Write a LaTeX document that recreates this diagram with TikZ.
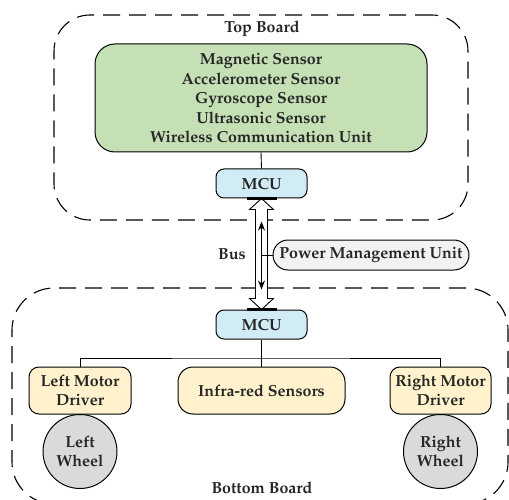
\documentclass[tikz,border=0pt]{standalone}
\usepackage[T1]{fontenc}
\usepackage{mathpazo}
\usetikzlibrary{calc,arrows.meta}
\definecolor{gfill}{HTML}{C5E0B4}
\definecolor{bfill}{HTML}{D2ECF5}
\definecolor{yfill}{HTML}{FFF2CC}
\definecolor{wfill}{HTML}{DADADC}
\definecolor{pfill}{HTML}{F2F2F2}
\definecolor{txt}{HTML}{262626}
\tikzset{
  every node/.style={font=\fontsize{16}{19.5}\selectfont\bfseries, text=txt},
  board/.style={draw, dashed, dash pattern=on 17pt off 9pt, line width=1.1pt, inner sep=0pt},
  box/.style={draw, line width=1pt, align=center, inner sep=0pt},
  greenbox/.style={box, fill=gfill, rounded corners=20pt},
  mcubox/.style={box, fill=bfill, rounded corners=8pt, minimum width=91pt, minimum height=29pt},
  drvbox/.style={box, fill=yfill, rounded corners=10pt, minimum height=47pt},
  wheel/.style={box, circle, fill=wfill, minimum size=74pt},
  pmubox/.style={box, fill=pfill, rounded corners=15pt, minimum width=196pt, minimum height=30pt},
  conn/.style={line width=0.9pt},
  bar/.style={line width=2.2pt}
}
\begin{document}
\begin{tikzpicture}[x=1pt,y=-1pt]
\useasboundingbox (0,0) rectangle (509,500);
% boards
\node[board, rounded corners=36pt, minimum width=414pt, minimum height=205pt] (top) at (261,117.5) {};
\node[board, rounded corners=42pt, minimum width=496pt, minimum height=216pt] (bot) at (260,396) {};
\node (toplbl) at (262,29) {Top Board};
\node (botlbl) at (262,487.5) {Bottom Board};
% top board content
\node[greenbox, minimum width=332pt, minimum height=108pt] (sens) at (261,98)
  {Magnetic Sensor\\Accelerometer Sensor\\Gyroscope Sensor\\Ultrasonic Sensor\\Wireless Communication Unit};
\node[mcubox] (mcu1) at (261.5,183.5) {MCU};
\draw[conn] (sens.south) -- (mcu1.north);
% bottom board content
\node[mcubox] (mcu2) at (261.5,324.5) {MCU};
\node[drvbox, minimum width=102pt] (lmd) at (80,390.5) {Left Motor\\Driver};
\node[drvbox, minimum width=167pt, rounded corners=15pt] (ir) at (261.5,390.5) {Infra-red Sensors};
\node[drvbox, minimum width=101pt] (rmd) at (440.5,390.5) {Right Motor\\Driver};
\node[wheel] (lw) at (80,451.5) {Left\\Wheel};
\node[wheel] (rw) at (440.5,451.5) {Right\\Wheel};
\coordinate (split) at (261.5,358);
\draw[conn] (mcu2.south) -- (ir.north);
\draw[conn] (lmd.north) |- (split) -| (rmd.north);
% bus
\draw[line width=0.9pt, fill=white]
  (mcu1.south) -- ($(mcu1.south)+(12,11)$) -- ($(mcu1.south)+(6,11)$)
  -- ($(mcu2.north)+(6,-11)$) -- ($(mcu2.north)+(12,-11)$) -- (mcu2.north)
  -- ($(mcu2.north)+(-12,-11)$) -- ($(mcu2.north)+(-6,-11)$)
  -- ($(mcu1.south)+(-6,11)$) -- ($(mcu1.south)+(-12,11)$) -- cycle;
\draw[bar] ($(mcu1.south)+(-15,0)$) -- ($(mcu1.south)+(15,0)$);
\draw[bar] ($(mcu2.north)+(-15,0)$) -- ($(mcu2.north)+(15,0)$);
\coordinate (ia) at ($(mcu1.south)+(0,23)$);
\coordinate (ib) at ($(mcu2.north)+(0,-20)$);
\draw[line width=1.1pt, {Stealth[length=9pt,width=7pt]}-{Stealth[length=9pt,width=7pt]}] (ia) -- (ib);
\node[pmubox] (pmu) at (371,255) {Power Management Unit};
\draw[conn] (pmu.west) -- (pmu.west -| ia);
\node (bus) at (232,254) {Bus};
\end{tikzpicture}
\end{document}
